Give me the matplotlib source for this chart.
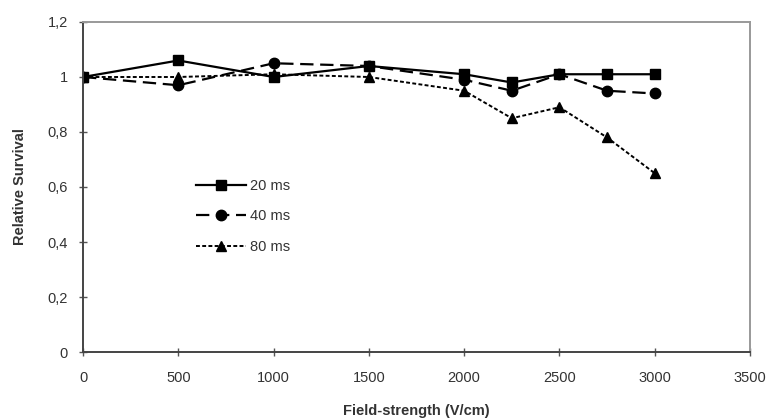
import matplotlib.pyplot as plt
from matplotlib.ticker import FuncFormatter

plt.rcParams['font.family'] = ['Liberation Sans', 'DejaVu Sans']

# Relative survival vs. field strength for three pulse lengths
field = [0, 500, 1000, 1500, 2000, 2250, 2500, 2750, 3000]
surv_20ms = [1.00, 1.06, 1.00, 1.04, 1.01, 0.98, 1.01, 1.01, 1.01]
surv_40ms = [1.00, 0.97, 1.05, 1.04, 0.99, 0.95, 1.01, 0.95, 0.94]
surv_80ms = [1.00, 1.00, 1.01, 1.00, 0.95, 0.85, 0.89, 0.78, 0.65]

fig = plt.figure(figsize=(7.71, 4.19), dpi=100)
ax = fig.add_axes([0.1077, 0.1599, 0.8651, 0.7876])

ax.plot(field, surv_20ms, color='black', lw=1.6, ls='-', marker='s', ms=7.5, label='20 ms')
ax.plot(field, surv_40ms, color='black', lw=1.6, ls=(0, (6, 3)), marker='o', ms=7.5, label='40 ms')
ax.plot(field, surv_80ms, color='black', lw=1.4, ls=(0, (2, 1.2)), marker='^', ms=7.5, label='80 ms')

ax.set_xlim(0, 3500)
ax.set_ylim(0, 1.2)
ax.set_xticks(range(0, 3501, 500))
ax.set_yticks([0, 0.2, 0.4, 0.6, 0.8, 1.0, 1.2])
ax.yaxis.set_major_formatter(FuncFormatter(lambda v, p: ('%g' % round(v, 1)).replace('.', ',')))
ax.tick_params(direction='inout', length=6, width=1, colors='#555555', labelsize=10.5,
               labelcolor='#333333')
ax.tick_params(axis='x', pad=11)
ax.tick_params(axis='y', pad=8)

for side in ['left', 'bottom']:
    ax.spines[side].set_color('#444444')
    ax.spines[side].set_linewidth(1.4)
for side in ['top', 'right']:
    ax.spines[side].set_color('#999999')
    ax.spines[side].set_linewidth(1.4)

ax.set_xlabel('Field-strength (V/cm)', fontweight='bold', fontsize=10.5, color='#333333', labelpad=13)
ax.set_ylabel('Relative Survival', fontweight='bold', fontsize=10.5, color='#333333', labelpad=15)

ax.legend(loc='upper left', bbox_to_anchor=(0.15, 0.565), frameon=False, fontsize=10.5,
          handlelength=3.4, labelspacing=1.15, handletextpad=0.3, labelcolor='#333333')

fig.savefig('out.png', dpi=100)
